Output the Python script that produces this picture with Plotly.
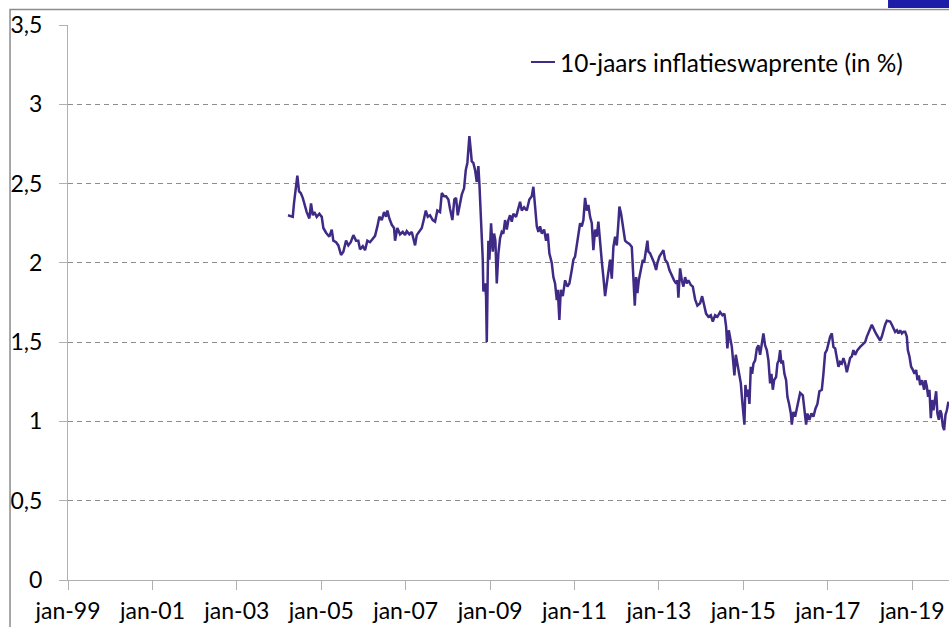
import pandas as pd
import plotly.graph_objects as go

# ---- data ----
years = [
    2004.213, 2004.325, 2004.356, 2004.396, 2004.434, 2004.474, 2004.514, 2004.562, 2004.616, 2004.656,
    2004.718, 2004.758, 2004.799, 2004.837, 2004.893, 2004.955, 2005.012, 2005.050, 2005.114, 2005.192,
    2005.249, 2005.287, 2005.351, 2005.405, 2005.469, 2005.524, 2005.588, 2005.642, 2005.699, 2005.761,
    2005.825, 2005.879, 2005.919, 2005.984, 2006.038, 2006.093, 2006.156, 2006.220, 2006.275, 2006.330,
    2006.377, 2006.434, 2006.488, 2006.536, 2006.567, 2006.614, 2006.671, 2006.725, 2006.749, 2006.803,
    2006.867, 2006.931, 2006.986, 2007.026, 2007.088, 2007.145, 2007.199, 2007.223, 2007.263, 2007.325,
    2007.382, 2007.436, 2007.477, 2007.524, 2007.578, 2007.642, 2007.697, 2007.751, 2007.815, 2007.856,
    2007.910, 2007.957, 2008.012, 2008.052, 2008.107, 2008.154, 2008.194, 2008.235, 2008.289, 2008.329,
    2008.384, 2008.424, 2008.462, 2008.510, 2008.543, 2008.566, 2008.604, 2008.645, 2008.685, 2008.723,
    2008.747, 2008.780, 2008.803, 2008.827, 2008.841, 2008.882, 2008.905, 2008.922, 2008.946, 2008.960,
    2008.984, 2009.024, 2009.064, 2009.095, 2009.126, 2009.159, 2009.197, 2009.237, 2009.277, 2009.315,
    2009.356, 2009.396, 2009.434, 2009.474, 2009.514, 2009.552, 2009.616, 2009.671, 2009.711, 2009.751,
    2009.806, 2009.870, 2009.931, 2009.988, 2010.026, 2010.067, 2010.107, 2010.145, 2010.185, 2010.225,
    2010.280, 2010.327, 2010.367, 2010.405, 2010.462, 2010.500, 2010.540, 2010.581, 2010.604, 2010.642,
    2010.675, 2010.723, 2010.754, 2010.778, 2010.832, 2010.879, 2010.936, 2010.974, 2011.014, 2011.055,
    2011.093, 2011.133, 2011.173, 2011.211, 2011.251, 2011.291, 2011.329, 2011.370, 2011.410, 2011.448,
    2011.488, 2011.528, 2011.566, 2011.607, 2011.647, 2011.685, 2011.725, 2011.765, 2011.803, 2011.844,
    2011.884, 2011.922, 2011.962, 2012.002, 2012.040, 2012.064, 2012.104, 2012.145, 2012.199, 2012.239,
    2012.301, 2012.358, 2012.396, 2012.429, 2012.460, 2012.491, 2012.524, 2012.571, 2012.619, 2012.649,
    2012.697, 2012.728, 2012.751, 2012.791, 2012.839, 2012.886, 2012.934, 2012.965, 2013.012, 2013.069,
    2013.107, 2013.147, 2013.202, 2013.249, 2013.306, 2013.360, 2013.408, 2013.439, 2013.462, 2013.502,
    2013.543, 2013.581, 2013.621, 2013.661, 2013.699, 2013.756, 2013.803, 2013.858, 2013.912, 2013.976,
    2014.024, 2014.071, 2014.118, 2014.173, 2014.230, 2014.277, 2014.332, 2014.386, 2014.450, 2014.505,
    2014.552, 2014.592, 2014.623, 2014.656, 2014.687, 2014.728, 2014.765, 2014.789, 2014.822, 2014.860,
    2014.908, 2014.941, 2014.972, 2015.003, 2015.026, 2015.050, 2015.083, 2015.114, 2015.145, 2015.178,
    2015.209, 2015.240, 2015.280, 2015.320, 2015.358, 2015.398, 2015.438, 2015.476, 2015.516, 2015.557,
    2015.595, 2015.635, 2015.666, 2015.699, 2015.730, 2015.777, 2015.808, 2015.841, 2015.872, 2015.903,
    2015.936, 2015.974, 2016.014, 2016.045, 2016.085, 2016.126, 2016.149, 2016.187, 2016.227, 2016.268,
    2016.306, 2016.346, 2016.410, 2016.448, 2016.488, 2016.519, 2016.566, 2016.614, 2016.661, 2016.709,
    2016.756, 2016.803, 2016.860, 2016.898, 2016.938, 2016.979, 2017.017, 2017.057, 2017.097, 2017.135,
    2017.176, 2017.216, 2017.254, 2017.294, 2017.334, 2017.372, 2017.412, 2017.453, 2017.491, 2017.531,
    2017.571, 2017.609, 2017.649, 2017.704, 2017.768, 2017.832, 2017.886, 2017.927, 2017.965, 2018.005,
    2018.045, 2018.083, 2018.123, 2018.164, 2018.202, 2018.242, 2018.282, 2018.320, 2018.360, 2018.401,
    2018.439, 2018.479, 2018.519, 2018.557, 2018.597, 2018.638, 2018.676, 2018.716, 2018.756, 2018.794,
    2018.834, 2018.874, 2018.898, 2018.936, 2018.976, 2019.017, 2019.055, 2019.095, 2019.126, 2019.159,
    2019.190, 2019.237, 2019.284, 2019.315, 2019.348, 2019.379, 2019.410, 2019.443, 2019.474, 2019.505,
    2019.538, 2019.569, 2019.599, 2019.633, 2019.664, 2019.694, 2019.727, 2019.758, 2019.789, 2019.822,
    2019.860,
]

swap_rate = [
    2.30, 2.29, 2.38, 2.46, 2.55, 2.45, 2.44, 2.41, 2.35, 2.32,
    2.28, 2.375, 2.30, 2.32, 2.29, 2.31, 2.29, 2.22, 2.19, 2.165,
    2.21, 2.14, 2.13, 2.11, 2.05, 2.07, 2.14, 2.11, 2.13, 2.175,
    2.14, 2.14, 2.085, 2.105, 2.08, 2.14, 2.13, 2.155, 2.17, 2.23,
    2.29, 2.27, 2.32, 2.29, 2.33, 2.28, 2.24, 2.22, 2.14, 2.22,
    2.18, 2.195, 2.175, 2.20, 2.18, 2.195, 2.14, 2.11, 2.175, 2.195,
    2.22, 2.28, 2.33, 2.29, 2.30, 2.27, 2.26, 2.33, 2.32, 2.44,
    2.42, 2.42, 2.40, 2.34, 2.27, 2.40, 2.41, 2.30, 2.385, 2.43,
    2.47, 2.585, 2.63, 2.80, 2.71, 2.64, 2.63, 2.585, 2.51, 2.61,
    2.50, 2.33, 2.185, 2.02, 1.82, 1.87, 1.79, 1.50, 1.955, 2.14,
    2.02, 2.25, 2.07, 2.185, 2.14, 1.87, 2.06, 2.155, 2.195, 2.185,
    2.27, 2.21, 2.27, 2.30, 2.26, 2.31, 2.29, 2.34, 2.385, 2.33,
    2.35, 2.33, 2.40, 2.42, 2.48, 2.355, 2.23, 2.195, 2.23, 2.185,
    2.21, 2.14, 2.185, 2.06, 2.00, 1.91, 1.87, 1.765, 1.83, 1.64,
    1.83, 1.79, 1.87, 1.89, 1.85, 1.87, 1.955, 2.02, 2.04, 2.11,
    2.175, 2.25, 2.23, 2.27, 2.41, 2.33, 2.365, 2.29, 2.25, 2.08,
    2.21, 2.165, 2.26, 2.10, 2.01, 1.91, 1.79, 1.87, 1.955, 2.02,
    1.90, 2.10, 2.165, 2.11, 2.25, 2.355, 2.31, 2.23, 2.14, 2.13,
    2.12, 2.10, 1.87, 1.73, 1.91, 1.81, 1.89, 1.955, 2.02, 2.00,
    2.10, 2.14, 2.07, 2.06, 2.03, 2.00, 1.955, 2.00, 2.04, 2.06,
    2.08, 2.02, 2.00, 1.955, 1.92, 1.89, 1.87, 1.89, 1.78, 1.965,
    1.89, 1.85, 1.91, 1.87, 1.89, 1.86, 1.85, 1.77, 1.73, 1.745,
    1.79, 1.73, 1.68, 1.66, 1.67, 1.63, 1.67, 1.66, 1.69, 1.67,
    1.68, 1.60, 1.46, 1.575, 1.53, 1.47, 1.365, 1.29, 1.42, 1.365,
    1.31, 1.24, 1.135, 1.05, 0.98, 1.23, 1.155, 1.20, 1.11, 1.345,
    1.30, 1.365, 1.385, 1.46, 1.48, 1.42, 1.51, 1.555, 1.48, 1.45,
    1.385, 1.24, 1.30, 1.20, 1.26, 1.28, 1.365, 1.385, 1.45, 1.365,
    1.385, 1.30, 1.26, 1.155, 1.11, 1.05, 0.98, 1.06, 1.03, 1.08,
    1.135, 1.18, 1.165, 1.09, 0.98, 1.05, 1.01, 1.05, 1.03, 1.08,
    1.11, 1.19, 1.20, 1.30, 1.43, 1.45, 1.49, 1.535, 1.555, 1.47,
    1.46, 1.40, 1.345, 1.375, 1.365, 1.40, 1.365, 1.31, 1.365, 1.40,
    1.41, 1.45, 1.42, 1.45, 1.47, 1.49, 1.50, 1.535, 1.555, 1.585,
    1.61, 1.585, 1.565, 1.545, 1.525, 1.51, 1.535, 1.575, 1.61, 1.635,
    1.63, 1.63, 1.61, 1.585, 1.565, 1.575, 1.555, 1.575, 1.555, 1.565,
    1.565, 1.535, 1.45, 1.41, 1.345, 1.325, 1.30, 1.325, 1.26, 1.29,
    1.23, 1.26, 1.20, 1.26, 1.22, 1.155, 1.20, 1.02, 1.135, 1.07,
    1.155, 1.19, 1.05, 1.01, 1.07, 1.05, 0.97, 0.945, 1.04, 1.07,
    1.125,
]

tick_dates = ["1999-01-01", "2001-01-01", "2003-01-01", "2005-01-01", "2007-01-01",
              "2009-01-01", "2011-01-01", "2013-01-01", "2015-01-01", "2017-01-01",
              "2019-01-01"]
tick_labels = ["jan-99", "jan-01", "jan-03", "jan-05", "jan-07", "jan-09",
               "jan-11", "jan-13", "jan-15", "jan-17", "jan-19"]
y_ticks = [0, 0.5, 1, 1.5, 2, 2.5, 3, 3.5]
series_name = "10-jaars inflatieswaprente (in %)"

# ---- build ----
base = pd.Timestamp("1999-01-01")
dates = [base + pd.Timedelta(days=(y - 1999) * 365.25) for y in years]

LINE = "#3F2A85"
FONT = "Lato, 'Open Sans', sans-serif"

fig = go.Figure()
fig.add_trace(go.Scatter(x=dates, y=swap_rate, mode="lines", name=series_name,
                         line=dict(color=LINE, width=2.5), showlegend=False))

fig.update_layout(
    width=949, height=627,
    margin=dict(l=68, r=0, t=25, b=47),
    paper_bgcolor="white", plot_bgcolor="white",
    separators=",.",
    font=dict(family=FONT, size=23, color="#000000"),
    xaxis=dict(
        range=["1999-01-01", "2019-11-16"],
        tickvals=tick_dates, ticktext=tick_labels,
        showgrid=False, zeroline=False,
        showline=True, linecolor="#B0B0B0", linewidth=1,
        ticks="outside", ticklen=9, tickcolor="#B0B0B0", tickwidth=1,
        tickfont=dict(family=FONT, size=23, color="#000000"),
        ticklabelstandoff=1,
    ),
    yaxis=dict(
        range=[0, 3.5], tickvals=y_ticks,
        showgrid=True, gridcolor="#8C8C8C", griddash="5px,4px", gridwidth=1,
        zeroline=False,
        showline=True, linecolor="#B0B0B0", linewidth=1,
        ticks="outside", ticklen=8, tickcolor="#B0B0B0", tickwidth=1,
        tickfont=dict(family=FONT, size=23, color="#000000"),
        ticklabelstandoff=12,
    ),
)

# legend drawn manually (line sample + text)
fig.add_shape(type="line", xref="paper", yref="paper",
              x0=0.5255, x1=0.5528, y0=0.9333, y1=0.9333,
              line=dict(color=LINE, width=2))
fig.add_annotation(xref="paper", yref="paper", x=0.5562, y=0.9333,
                   xanchor="left", yanchor="middle", showarrow=False,
                   text=series_name, font=dict(family=FONT, size=24.4, color="#000000"))

# chart frame and corner block
fig.add_shape(type="rect", xref="paper", yref="paper",
              x0=-0.0658, x1=1.2, y0=-0.2, y1=1.0279,
              line=dict(color="#8C8C8C", width=1.5), fillcolor="rgba(0,0,0,0)", layer="below")
fig.add_shape(type="rect", xref="paper", yref="paper",
              x0=0.9308, x1=1.05, y0=1.0306, y1=1.07,
              line=dict(width=0), fillcolor="#1C1CA8")

fig.write_html("out.html", config={"displayModeBar": False},
               post_script="document.body.style.margin='0';document.body.style.overflow='hidden';")
